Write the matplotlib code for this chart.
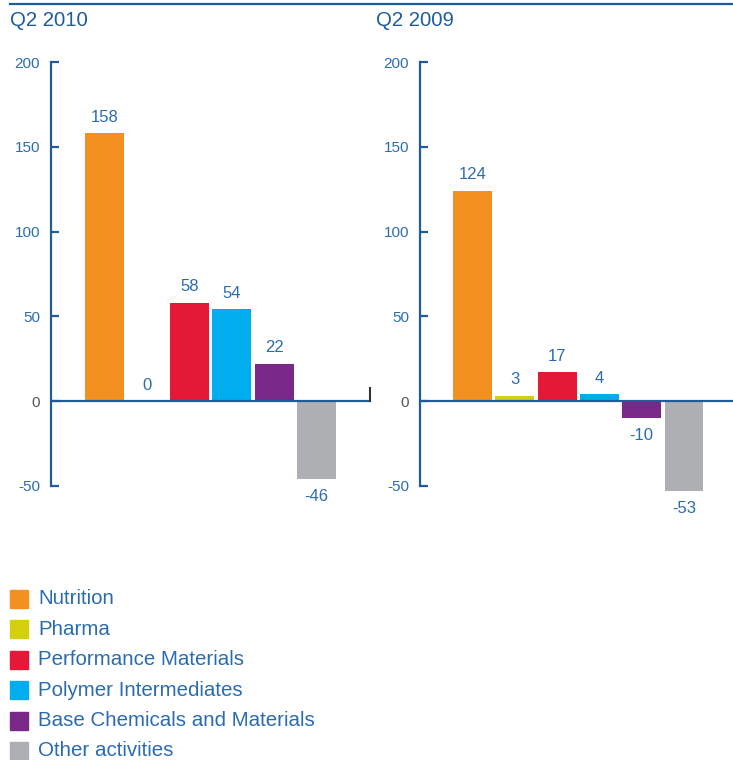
import matplotlib.pyplot as plt
from matplotlib.patches import Rectangle
from matplotlib.lines import Line2D

categories = ['Nutrition', 'Pharma', 'Performance Materials', 'Polymer Intermediates',
              'Base Chemicals and Materials', 'Other activities']
colors = ['#f39020', '#d4d00f', '#e31937', '#00aeef', '#7a2887', '#adafb2']
q2_2010 = [158, 0, 58, 54, 22, -46]
q2_2009 = [124, 3, 17, 4, -10, -53]
panel_titles = ['Q2 2010', 'Q2 2009']
yticks = [-50, 0, 50, 100, 150, 200]

W, H = 733, 760
blue = '#1f5c99'
txt_blue = '#2b6cb0'

plt.rcParams['font.family'] = ['Liberation Sans', 'DejaVu Sans']
plt.rcParams['axes.unicode_minus'] = False
fig = plt.figure(figsize=(W / 100, H / 100), dpi=100)


def px_axes(x0, x1, y_top, y_bot):
    return fig.add_axes([x0 / W, 1 - y_bot / H, (x1 - x0) / W, (y_bot - y_top) / H])


# pixel geometry: 0 at y=401, 200 at y=62
zero_px, scale = 401, 339 / 200
ylo, yhi = -62, 210
top_px = zero_px - scale * yhi
bot_px = zero_px - scale * ylo

panels = [
    (q2_2010, 51, 370, 104.5, 42.4, 10),
    (q2_2009, 420, 733, 472.5, 42.3, 376),
]

for (vals, x0, x1, c0, step, tx), title in zip(panels, panel_titles):
    ax = px_axes(x0, x1, top_px, bot_px)
    ax.set_xlim((x0 - c0) / step, (x1 - c0) / step)
    ax.set_ylim(ylo, yhi)
    xs = list(range(len(vals)))
    ax.bar(xs, vals, width=0.92, color=colors, zorder=2)
    ax.axhline(0, color=blue, lw=1.6, zorder=3)
    for x, v in zip(xs, vals):
        if v >= 0:
            ax.text(x, v + 5, str(v), ha='center', va='bottom', color=txt_blue, fontsize=12)
        else:
            ax.text(x, v - 6, str(v), ha='center', va='top', color=txt_blue, fontsize=12)
    for s in ['top', 'right', 'bottom']:
        ax.spines[s].set_visible(False)
    ax.spines['left'].set_bounds(-50, 200)
    ax.spines['left'].set_color(blue)
    ax.spines['left'].set_linewidth(1.6)
    ax.set_xticks([])
    ax.set_yticks(yticks)
    ax.tick_params(axis='y', direction='in', length=6, width=1.6, color=blue,
                   labelcolor=txt_blue, labelsize=11, pad=8)
    for lbl, t in zip(ax.get_yticklabels(), yticks):
        if t == 0:
            lbl.set_color('#555555')
    ax.patch.set_alpha(0)
    fig.text(tx / W, 1 - 20 / H, title, color=blue, fontsize=14.7, ha='left', va='center')

# end tick of left panel baseline
fig.add_artist(Line2D([370 / W, 370 / W], [1 - 401 / H, 1 - 388 / H], color='#333333', lw=1.5))
# top rule
fig.add_artist(Line2D([10 / W, 1], [1 - 4 / H, 1 - 4 / H], color=blue, lw=1.6))

# legend
for i, (name, col) in enumerate(zip(categories, colors)):
    yc = 599 + i * 30.4
    fig.add_artist(Rectangle((10 / W, 1 - (yc + 9) / H), 18 / W, 18 / H, color=col))
    fig.text(38 / W, 1 - yc / H, name, color=txt_blue, fontsize=14.8, ha='left', va='center')

fig.savefig('out.png', dpi=100)
